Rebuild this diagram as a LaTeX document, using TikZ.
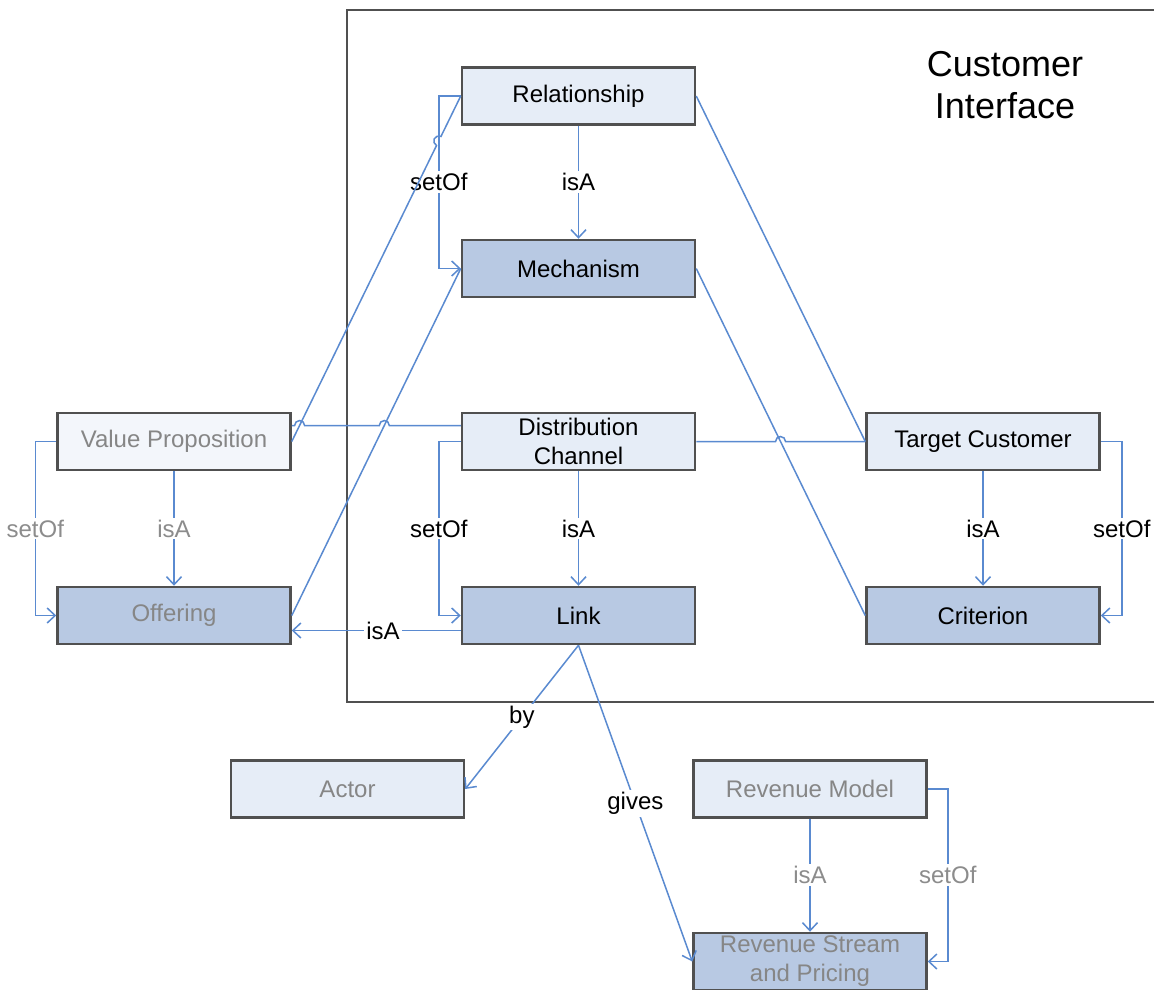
\documentclass[tikz,border=0pt]{standalone}
\usepackage{fontspec}
\setmainfont{Liberation Sans}
\usetikzlibrary{arrows.meta,calc}
\definecolor{edge}{HTML}{5A8AD0}
\definecolor{boxline}{HTML}{505050}
\definecolor{lightfill}{HTML}{E6EDF7}
\definecolor{palefill}{HTML}{F3F6FB}
\definecolor{darkfill}{HTML}{B8C9E3}
\definecolor{dimtext}{HTML}{868686}
\definecolor{labeldim}{HTML}{8C8C8C}

\begin{document}
\begin{tikzpicture}[x=1pt,y=1pt,
  box/.style={draw=boxline, line width=2.5pt, minimum width=233pt, minimum height=57pt,
    inner sep=0pt, align=center, font=\fontsize{24}{29}\selectfont},
  light/.style={box, fill=lightfill},
  pale/.style={box, fill=palefill},
  dark/.style={box, fill=darkfill},
  dim/.style={text=dimtext},
  link/.style={draw=edge, line width=1.5pt},
  arr/.style={link, -{Straight Barb[length=8pt,width=15pt]}},
  lbl/.style={fill=white, inner sep=2pt, font=\fontsize{24}{29}\selectfont},
  dimlbl/.style={lbl, text=labeldim},
]
% canvas
\fill[white] (0,0) rectangle (1154,-989);
\clip (0,0) rectangle (1154,-989);

% customer interface frame
\draw[line width=2pt, draw=boxline] (347,-10) rectangle (1180,-702);
\node[font=\fontsize{36}{42}\selectfont, align=center] (title) at (1005,-85) {Customer\\Interface};

% concepts
\node[light] (rel)  at (578.5,-96)   {Relationship};
\node[dark]  (mech) at (578.5,-268.5) {Mechanism};
\node[light] (dc)   at (578.5,-441.5) {Distribution\\Channel};
\node[dark]  (lnk)  at (578.5,-615.5) {Link};
\node[pale,dim]  (vp)  at (174,-441.5) {Value Proposition};
\node[dark,dim]  (off) at (174,-615.5) {Offering};
\node[light] (tc)   at (983,-441.5) {Target Customer};
\node[dark]  (crit) at (983,-615.5) {Criterion};
\node[light,dim] (actor) at (347.5,-789) {Actor};
\node[light,dim] (rm)    at (810,-789)   {Revenue Model};
\node[dark,dim]  (rs)    at (810,-961.5) {Revenue Stream\\and Pricing};

% helper points for the line hops
\coordinate (vpA)   at ([yshift=16pt]vp.east);
\coordinate (dcA)   at ([yshift=16pt]dc.west);
\coordinate (relL)  at ([xshift=-22pt]rel.west);
\coordinate (mechL) at ([xshift=-22pt]mech.west);
\coordinate (hA) at (intersection of vp.east--rel.west and vpA--dcA);
\coordinate (hB) at (intersection of off.east--mech.west and vpA--dcA);
\coordinate (hC) at (intersection of mech.east--crit.west and dc.east--tc.west);
\coordinate (hD) at (intersection of vp.east--rel.west and relL--mechL);

% isA / setOf hierarchies
\draw[arr] (rel) -- node[lbl]{isA} (mech);
\draw[arr] (rel.west) -- (relL) |- node[lbl,pos=0.25]{setOf} (mech.west);
\draw[arr] (dc) -- node[lbl]{isA} (lnk);
\draw[arr] (dc.west) -- ++(-22,0) |- node[lbl,pos=0.25]{setOf} (lnk.west);
\draw[arr] (vp) -- node[dimlbl]{isA} (off);
\draw[arr] (vp.west) -- ++(-21,0) |- node[dimlbl,pos=0.25]{setOf} (off.west);
\draw[arr] (tc) -- node[lbl]{isA} (crit);
\draw[arr] (tc.east) -- ++(21,0) |- node[lbl,pos=0.25]{setOf} (crit.east);
\draw[arr] (rm) -- node[dimlbl]{isA} (rs);
\draw[arr] (rm.east) -- ++(20,0) |- node[dimlbl,pos=0.25]{setOf} (rs.east);

% link relations
\draw[arr] ([yshift=-15pt]lnk.west) -- node[lbl,pos=0.46]{isA} ([yshift=-15pt]off.east);
\draw[arr] (lnk.south) -- node[lbl]{by} (actor.east);
\draw[arr] (lnk.south) -- node[lbl]{gives} (rs.west);

% associations
\draw[link] (rel.east) -- (tc.west);
\draw[link] (mech.east) -- (crit.west);
\draw[link] (off.east) -- (mech.west);
\draw[link] (dc.east) -- ([xshift=-5pt]hC) arc[start angle=180,end angle=0,radius=5pt] -- (tc.west);
\draw[link] (vpA) -- ([xshift=-5pt]hA) arc[start angle=180,end angle=0,radius=5pt]
  -- ([xshift=-5pt]hB) arc[start angle=180,end angle=0,radius=5pt] -- (dcA);
\draw[link] let \p1=($(rel.west)-(vp.east)$), \n1={atan2(\y1,\x1)} in
  (vp.east) -- ($(hD)!5pt!(vp.east)$) arc[start angle=\n1+180,end angle=\n1,radius=5pt] -- (rel.west);
\end{tikzpicture}
\end{document}
